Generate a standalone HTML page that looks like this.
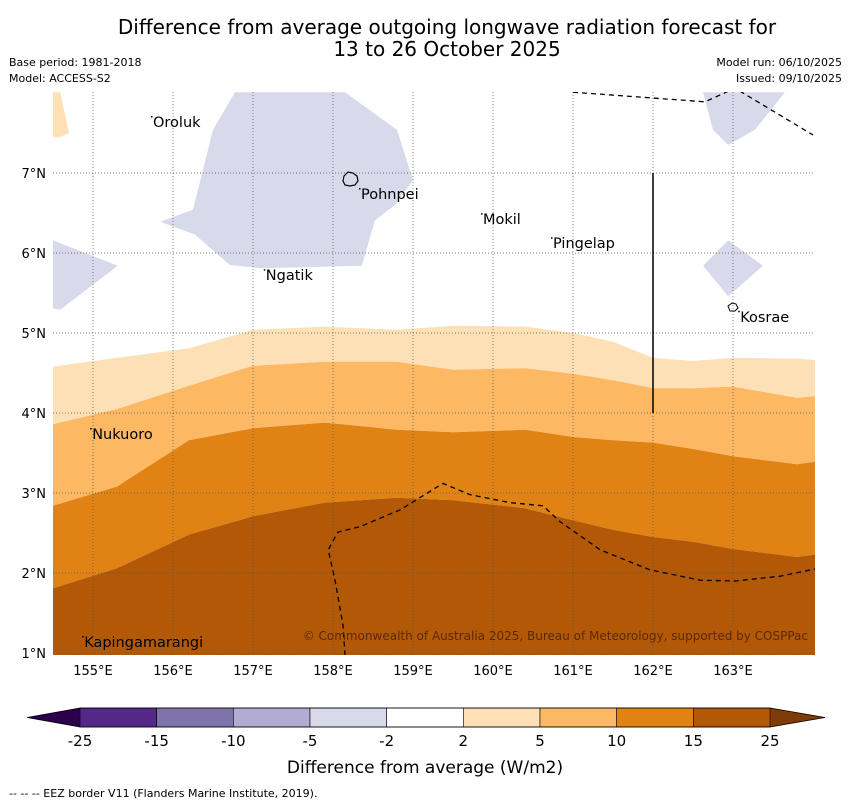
<!DOCTYPE html>
<html><head><meta charset="utf-8">
<style>
body{margin:0;background:#fff;}
svg{display:block;font-family:"DejaVu Sans","Liberation Sans",sans-serif;}
</style></head>
<body>
<svg id="chart" width="850" height="804" viewBox="0 0 850 804" xmlns="http://www.w3.org/2000/svg">
<rect width="850" height="804" fill="#fff"/>
<text x="447" y="34" font-size="20" text-anchor="middle">Difference from average outgoing longwave radiation forecast for</text>
<text x="447" y="56" font-size="20" text-anchor="middle">13 to 26 October 2025</text>
<text x="9" y="66" font-size="11">Base period: 1981-2018</text>
<text x="9" y="82" font-size="11">Model: ACCESS-S2</text>
<text x="842" y="66" font-size="11" text-anchor="end">Model run: 06/10/2025</text>
<text x="842" y="82" font-size="11" text-anchor="end">Issued: 09/10/2025</text>
<defs><clipPath id="plotclip"><rect x="53" y="92" width="762" height="563"/></clipPath></defs>
<g id="plot" clip-path="url(#plotclip)"></g>
<g id="overlay"></g>
<g id="colorbar"></g>
<text x="425" y="773" font-size="17" text-anchor="middle">Difference from average (W/m2)</text>
<text x="9" y="797" font-size="11">--  --  -- EEZ border V11 (Flanders Marine Institute, 2019).</text>
</svg>
<script>
const lonGrid = [154.5,155.3,156.2,157,157.9,158.8,159.5,160.4,161,161.5,162,162.5,163,163.8,164.03];
const level2Lat  = [4.58,4.69,4.81,5.04,5.08,5.04,5.09,5.08,5.00,4.89,4.69,4.65,4.69,4.68,4.66];
const level5Lat  = [3.86,4.05,4.34,4.59,4.64,4.64,4.54,4.56,4.49,4.41,4.31,4.31,4.33,4.19,4.21];
const level10Lat = [2.84,3.08,3.66,3.81,3.88,3.79,3.76,3.79,3.70,3.66,3.63,3.55,3.46,3.36,3.39];
const level15Lat = [1.81,2.06,2.48,2.71,2.88,2.94,2.91,2.81,2.66,2.54,2.45,2.39,2.30,2.20,2.23];
const lonTicks = [155,156,157,158,159,160,161,162,163];
const latTicks = [1,2,3,4,5,6,7];
const cbLevels = ["-25","-15","-10","-5","-2","2","5","10","15","25"];
const cbColors = ["#542788","#8073ac","#b2abd2","#d8daeb","#ffffff","#fee0b6","#fdb863","#e08214","#b35806"];
const lavMain = [[156.775,8.01],[156.5,7.54],[156.25,6.54],[155.84,6.39],[156.275,6.23],[156.71,5.85],[157.09,5.81],[158.36,5.84],[158.525,6.41],[158.775,6.6],[159.0,6.91],[158.8,7.54],[158.15,8.01]];
const lavLeft = [[154.5,6.16],[155.31,5.84],[154.59,5.29],[154.5,5.31]];
const lavTopRight = [[162.625,8.01],[162.75,7.54],[162.94,7.35],[163.275,7.54],[163.65,8.01]];
const lavRight = [[162.94,6.16],[163.375,5.84],[162.94,5.46],[162.625,5.84]];
const orangeTL = [[154.5,8.01],[154.59,8.01],[154.7,7.5],[154.59,7.45],[154.5,7.45]];
const eezA = [[161.0,8.01],[162.65,7.89],[163.025,8.06],[164.0,7.475]];
const eezB = [[158.15,0.97],[158.125,1.35],[158.025,1.91],[157.94,2.29],[158.06,2.51],[158.34,2.58],[158.84,2.79],[159.375,3.12],[159.71,2.98],[160.21,2.88],[160.625,2.84],[160.84,2.64],[161.34,2.29],[161.96,2.04],[162.59,1.91],[163.025,1.9],[163.59,1.96],[164.025,2.05]];
const places = [["Oroluk",155.75,7.575],["Pohnpei",158.35,6.675],["Mokil",159.875,6.36],["Pingelap",160.75,6.06],["Ngatik",157.16,5.66],["Kosrae",163.09,5.14],["Nukuoro",154.99,3.675],["Kapingamarangi",154.89,1.075]];

const NS="http://www.w3.org/2000/svg";
const X = lon => 53 + (lon-154.5)*80;
const Y = lat => 653 - (lat-1)*80;
function mk(tag, attrs, parent){const e=document.createElementNS(NS,tag);for(const k in attrs)e.setAttribute(k,attrs[k]);parent.appendChild(e);return e;}
const plot=document.getElementById('plot');
const overlay=document.getElementById('overlay');
const cb=document.getElementById('colorbar');
function line(lats){return lonGrid.map((l,i)=>X(l).toFixed(1)+','+Y(lats[i]).toFixed(1));}
function band(upper, lower, color, name){
  const pts = upper ? line(upper) : [X(154.4)+','+Y(8.2), X(164.2)+','+Y(8.2)];
  const low = lower ? line(lower).reverse() : [X(164.2)+','+Y(0.9), X(154.4)+','+Y(0.9)];
  const p=mk('polygon',{points:pts.concat(low).join(' '),fill:color},plot);
  
  
}
band(null, level2Lat, "#ffffff", "band-near-average");
band(level2Lat, level5Lat, "#fee0b6", "band-2-to-5");
band(level5Lat, level10Lat, "#fdb863", "band-5-to-10");
band(level10Lat, level15Lat, "#e08214", "band-10-to-15");
band(level15Lat, null, "#b35806", "band-15-to-25");
function poly(arr, color, name){
  const p=mk('polygon',{points:arr.map(a=>X(a[0]).toFixed(1)+','+Y(a[1]).toFixed(1)).join(' '),fill:color},plot);
  
  
}
poly(lavMain,"#d8daeb","negative-region-pohnpei");
poly(lavLeft,"#d8daeb","negative-region-west");
poly(lavTopRight,"#d8daeb","negative-region-northeast");
poly(lavRight,"#d8daeb","negative-region-east");
poly(orangeTL,"#fee0b6","positive-region-northwest");
lonTicks.forEach(l=>{
  const g=mk('line',{x1:X(l),x2:X(l),y1:92,y2:655,stroke:"#555","stroke-width":0.7,"stroke-dasharray":"1,2"},plot);
  
  
  const t=mk('text',{x:X(l),y:675,"font-size":13,"text-anchor":"middle"},overlay);
  t.textContent=l+"°E";
  
  
});
latTicks.forEach(l=>{
  const g=mk('line',{x1:53,x2:815,y1:Y(l),y2:Y(l),stroke:"#555","stroke-width":0.7,"stroke-dasharray":"1,2"},plot);
  
  
  const t=mk('text',{x:46,y:Y(l)+5,"font-size":13,"text-anchor":"end"},overlay);
  t.textContent=l+"°N";
  
  
});
function pl(arr,name,dash){
  const p=mk('polyline',{points:arr.map(a=>X(a[0]).toFixed(1)+','+Y(a[1]).toFixed(1)).join(' '),fill:"none",stroke:"#000","stroke-width":1.3,"stroke-dasharray":dash},plot);
  
  
}
pl(eezA,"eez-border-north","5,4");
pl(eezB,"eez-border-south","5,4");
const sl=mk('line',{x1:X(162),x2:X(162),y1:Y(7),y2:Y(4),stroke:"#000","stroke-width":1.5},plot);


const pohn=mk('path',{d:"M344,176 l4,-4 5,1 4,3 1,5 -3,4 -5,1 -5,-1 -2,-4z",fill:"none",stroke:"#000","stroke-width":1.2},plot);


const kos=mk('path',{d:"M728,306 l4,-3 4,1 2,4 -3,3 -5,0z",fill:"none",stroke:"#000","stroke-width":1},plot);


places.forEach(p=>{
  const d=mk('rect',{x:X(p[1])-2,y:Y(p[2])-11,width:1.5,height:1.5,fill:"#000"},plot);
  
  
  const t=mk('text',{x:X(p[1]),y:Y(p[2]),"font-size":14.5},plot);
  t.textContent=p[0];
  
  
});
const cp=mk('text',{x:808,y:640,"font-size":12,"text-anchor":"end",fill:"#5a2a05"},plot);
cp.textContent="© Commonwealth of Australia 2025, Bureau of Meteorology, supported by COSPPac";


const cbX0=80, cbW=690, cbY=708, cbH=19, n=cbColors.length, w=cbW/n;
const la=mk('polygon',{points:`27,${cbY+cbH/2} ${cbX0},${cbY} ${cbX0},${cbY+cbH}`,fill:"#2d004b"},cb);


const ra=mk('polygon',{points:`825,${cbY+cbH/2} ${cbX0+cbW},${cbY} ${cbX0+cbW},${cbY+cbH}`,fill:"#7f3b08"},cb);


cbColors.forEach((c,i)=>{
  const r=mk('rect',{x:cbX0+i*w,y:cbY,width:w,height:cbH,fill:c,stroke:"#000","stroke-width":0.6},cb);
  
  
});
mk('polygon',{points:`27,${cbY+cbH/2} ${cbX0},${cbY} ${cbX0+cbW},${cbY} 825,${cbY+cbH/2} ${cbX0+cbW},${cbY+cbH} ${cbX0},${cbY+cbH}`,fill:"none",stroke:"#000","stroke-width":0.8},cb);
cbLevels.forEach((l,i)=>{
  const t=mk('text',{x:cbX0+i*w,y:746,"font-size":15,"text-anchor":"middle"},cb);
  t.textContent=l;
  
  
});
</script>
</body></html>
